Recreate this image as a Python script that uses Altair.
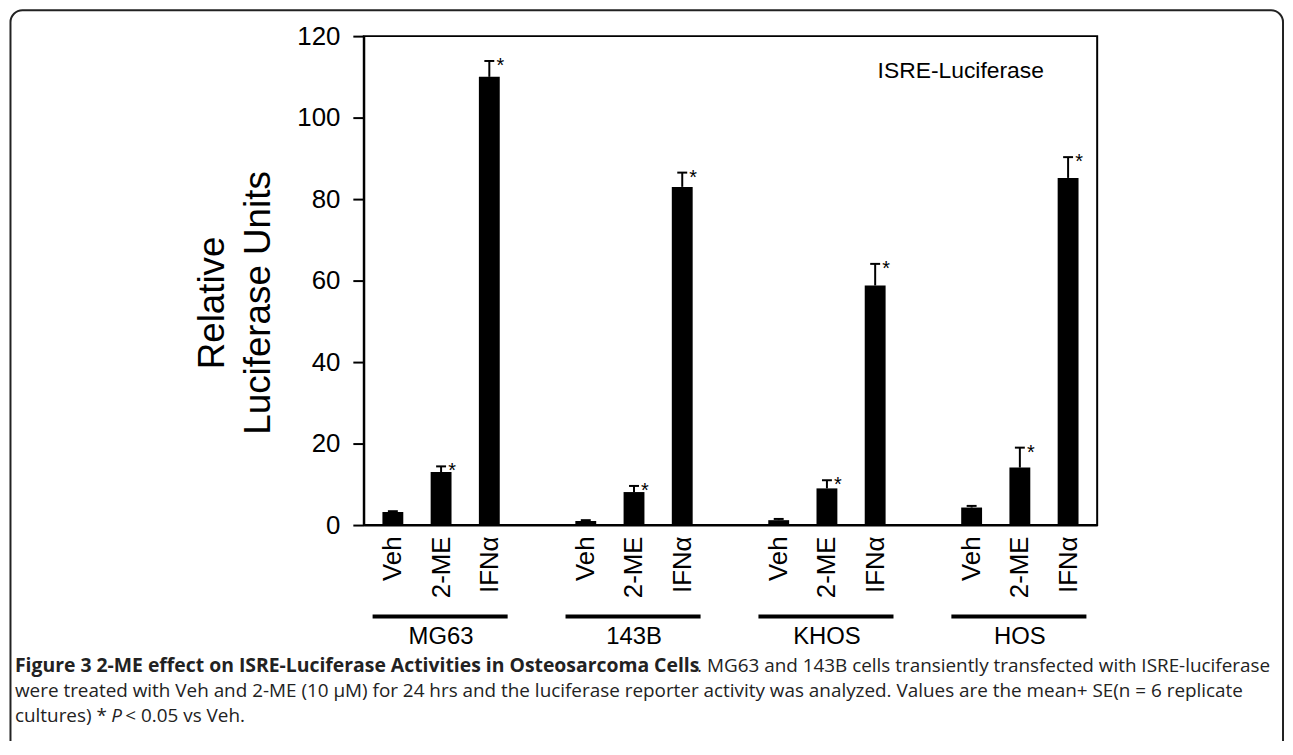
import json
import altair as alt
import pandas as pd

# ---- data ----
groups = ["MG63", "143B", "KHOS", "HOS"]
treatments = ["Veh", "2-ME", "IFNα"]
veh_mean = [3.2, 1.0, 1.2, 4.3]
me_mean = [13.0, 8.1, 9.0, 14.1]
ifn_mean = [110.0, 83.0, 58.8, 85.2]
veh_err = [0.2, 0.2, 0.3, 0.4]
me_err = [1.4, 1.5, 2.0, 4.9]
ifn_err = [3.9, 3.5, 5.3, 5.1]
significant = [False, True, True]
y_ticks = [0, 20, 40, 60, 80, 100, 120]
panel_label = "ISRE-Luciferase"
y_title = ["Relative", "Luciferase Units"]
caption_bold = "Figure 3 2-ME effect on ISRE-Luciferase Activities in Osteosarcoma Cells"
caption_1 = ". MG63 and 143B cells transiently transfected with ISRE-luciferase"
caption_2 = ("were treated with Veh and 2-ME (10 \u03bcM) for 24 hrs and the luciferase "
             "reporter activity was analyzed. Values are the mean+ SE(n = 6 replicate")
caption_3a = "cultures) * "
caption_3b = "P"
caption_3c = " < 0.05 vs Veh."

FONT = "Liberation Sans"
CAP_FONT = "Open Sans"

means = [veh_mean, me_mean, ifn_mean]
errs = [veh_err, me_err, ifn_err]
rows = []
for g, name in enumerate(groups):
    for t, tr in enumerate(treatments):
        m = means[t][g]
        e = errs[t][g]
        rows.append(dict(group=name, treatment=tr, slot=g * 4 + t, mean=m,
                         top=m + e, sig=significant[t]))
df = pd.DataFrame(rows)

n_slots = len(groups) * 4 - 1
slot_names = [""] * n_slots
for r in rows:
    slot_names[r["slot"]] = r["treatment"]
label_expr = json.dumps(slot_names, ensure_ascii=False) + "[datum.value]"

gdf = pd.DataFrame(dict(group=groups,
                        center=[g * 4 + 1 for g in range(len(groups))],
                        x0=[g * 4 - 0.42 for g in range(len(groups))],
                        x1=[g * 4 + 2.38 for g in range(len(groups))]))

xscale = alt.Scale(domain=[-0.5, n_slots - 0.5], nice=False, zero=False)
yscale = alt.Scale(domain=[0, 120], nice=False)

xaxis = alt.Axis(values=[r["slot"] for r in rows], labelExpr=label_expr,
                 labelAngle=270, ticks=False, labelPadding=11, labelFontSize=26,
                 labelFont=FONT, labelColor="black", domainColor="black",
                 domainWidth=2, title=None, grid=False, labelOverlap=False)
yaxis = alt.Axis(values=y_ticks, tickSize=11, tickWidth=2, tickColor="black",
                 domainWidth=2, domainColor="black", labelPadding=13,
                 labelFontSize=26, labelFont=FONT, labelColor="black",
                 grid=False, title=y_title, titleFont=FONT, titleFontSize=37,
                 titleFontWeight="normal", titleColor="black", titleX=-141,
                 titleY=268, titleBaseline="alphabetic", titleAngle=270,
                 titleLineHeight=46, titleAlign="center")

base = alt.Chart(df)
bars = base.mark_bar(size=21, color="black").encode(
    x=alt.X("slot:Q", scale=xscale, axis=xaxis),
    y=alt.Y("mean:Q", scale=yscale, axis=yaxis),
)
whisk = base.mark_rule(strokeWidth=2, color="black").encode(
    x="slot:Q", y="mean:Q", y2="top:Q")
caps = base.mark_rule(strokeWidth=2, color="black", xOffset=-5, x2Offset=5).encode(
    x="slot:Q", x2="slot:Q", y="top:Q")
stars = base.transform_filter("datum.sig").mark_text(
    text="*", dx=11, dy=5, fontSize=20, font=FONT, color="black").encode(
    x="slot:Q", y="top:Q")

glines = alt.Chart(gdf).mark_rule(strokeWidth=4, color="black").encode(
    x="x0:Q", x2="x1:Q", y=alt.value(584))
glabels = alt.Chart(gdf).mark_text(fontSize=24, font=FONT, color="black",
                                   baseline="middle").encode(
    x="center:Q", y=alt.value(605), text="group:N")

pdf = pd.DataFrame(dict(x=[10.05], y=[109.8], label=[panel_label]))
plabel = alt.Chart(pdf).mark_text(align="left", baseline="alphabetic", fontSize=23,
                                  font=FONT, color="black").encode(
    x="x:Q", y="y:Q", text="label:N")

one = pd.DataFrame(dict(k=[0]))
border = alt.Chart(one).mark_rect(filled=False, stroke="#222222", strokeWidth=2,
                                  cornerRadius=12).encode(
    x=alt.value(-355.5), x2=alt.value(925), y=alt.value(-26), y2=alt.value(780))


def cap_text(txt, x, y, align="left", weight="normal", style="normal", size=19):
    return alt.Chart(one).mark_text(align=align, baseline="alphabetic", font=CAP_FONT,
                                    fontSize=size, fontWeight=weight, fontStyle=style,
                                    color="#222222").encode(
        x=alt.value(x), y=alt.value(y), text=alt.value(txt))


captions = [
    cap_text(caption_bold, -351, 640, weight="bold", size=19.5),
    cap_text(caption_1, 912, 640, align="right"),
    cap_text(caption_2, -351, 665),
    cap_text(caption_3a, -351, 690),
    cap_text(caption_3b, -254, 690, style="italic"),
    cap_text(caption_3c, -240, 690),
]

chart = alt.layer(border, bars, whisk, caps, stars, glines, glabels, plabel,
                  *captions).properties(
    width=738, height=492,
    padding={"left": 358, "top": 26, "right": 189, "bottom": 215},
    autosize=alt.AutoSizeParams(type="none"),
).configure_view(stroke="black", strokeWidth=2).configure_axis(grid=False)

chart.save("out.html", embed_options={"renderer": "svg", "actions": False})
